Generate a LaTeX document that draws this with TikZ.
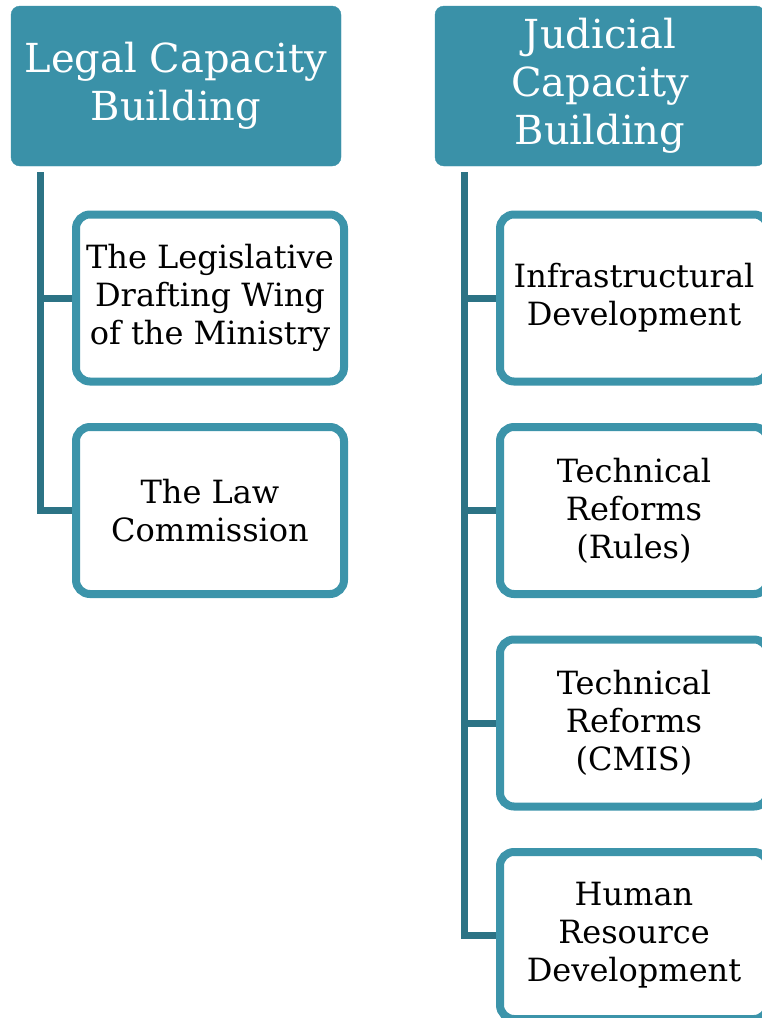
\documentclass[tikz,border=0pt]{standalone}
\usepackage{fontspec}
\setmainfont{DejaVu Serif}
\usepackage{tikz}
\usetikzlibrary{calc}

\definecolor{headteal}{RGB}{58,145,168}
\definecolor{boxteal}{RGB}{60,148,170}
\definecolor{lineteal}{RGB}{44,115,133}

\begin{document}
\begin{tikzpicture}[x=1pt,y=-1pt,
  head/.style={rectangle, rounded corners=9pt, fill=headteal, draw=headteal,
    text=white, minimum width=330pt, minimum height=160pt, align=center,
    inner sep=0pt, font=\fontsize{40}{48}\selectfont},
  item/.style={rectangle, rounded corners=14pt, draw=boxteal, line width=8pt,
    fill=white, minimum width=268pt, minimum height=167pt, align=center,
    inner sep=0pt, font=\fontsize{32}{38}\selectfont},
  link/.style={draw=lineteal, line width=7pt}]

\useasboundingbox (0,0) rectangle (761,1018);

\node[head] (legal) at (176,86) {Legal Capacity\\Building};

\node[head] (judicial) at (600,86) {Judicial\\Capacity\\Building};

\node[item] (draft) at (210,298) {The Legislative\\Drafting Wing\\of the Ministry};
\node[item] (lawcom) at (210,510.5) {The Law\\Commission};

\node[item] (infra) at (634,298) {Infrastructural\\Development};
\node[item] (rules) at (634,510.5) {Technical\\Reforms\\(Rules)};
\node[item] (cmis) at (634,723) {Technical\\Reforms\\(CMIS)};
\node[item] (human) at (634,935.5) {Human\\Resource\\Development};

\coordinate (ltop) at ($(legal.south west)+(29.5,6)$);
\coordinate (jtop) at ($(judicial.south west)+(30,6)$);

\draw[link] (ltop) |- (draft.west);
\draw[link] (ltop) |- (lawcom.west);

\draw[link] (jtop) |- (infra.west);
\draw[link] (jtop) |- (rules.west);
\draw[link] (jtop) |- (cmis.west);
\draw[link] (jtop) |- (human.west);

\end{tikzpicture}
\end{document}
